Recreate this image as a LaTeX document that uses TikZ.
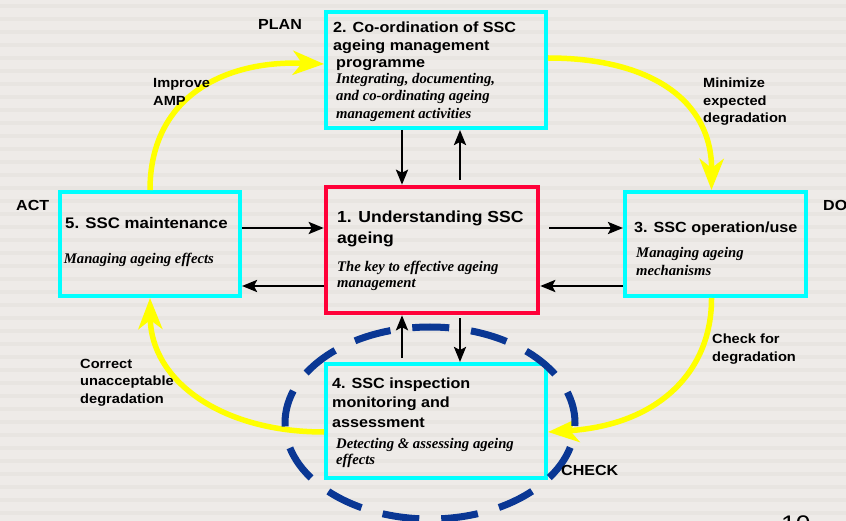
\documentclass[tikz,border=0pt]{standalone}
\usepackage{fontspec}
\setmainfont{Liberation Sans}[FakeStretch=1.1]
\newfontfamily\serifit{Liberation Serif}
\usetikzlibrary{arrows.meta}

\definecolor{bgc}{HTML}{EEEBE8}
\definecolor{stripec}{HTML}{E8E5E1}
\definecolor{boxcyan}{HTML}{00FFFF}
\definecolor{boxred}{HTML}{FF0038}
\definecolor{amber}{HTML}{FFFF00}
\definecolor{ringblue}{HTML}{0A3794}

\begin{document}
\begin{tikzpicture}[x=1pt,y=-1pt,
  cbox/.style={draw=boxcyan,line width=4pt,inner sep=0pt,rectangle},
  rbox/.style={draw=boxred,line width=4.5pt,inner sep=0pt,rectangle},
  txt/.style={inner sep=0pt,anchor=base west,text=black},
  ttl/.style={txt,font=\bfseries\fontsize{14.7}{17}\selectfont},
  ttlbig/.style={txt,font=\bfseries\fontsize{16}{19}\selectfont},
  sub/.style={txt,font=\serifit\bfseries\itshape\fontsize{14.7}{17}\selectfont},
  lbl/.style={txt,font=\bfseries\fontsize{13.3}{16}\selectfont},
  phase/.style={txt,font=\bfseries\fontsize{14.6}{17}\selectfont},
  blk/.style={draw=black,line width=2.6pt,-{Stealth[length=15pt,width=12pt,inset=3pt]}},
  cycle arrow/.style={draw=amber,line width=5.5pt,-{Stealth[length=31pt,width=24pt,inset=9pt]}},
  ring/.style={draw=ringblue,line width=7pt,dash pattern=on 37pt off 22pt,dash phase=5pt}]

\useasboundingbox (0,0) rectangle (846,521);
\clip (0,0) rectangle (846,521);

% background with faint horizontal banding
\fill[bgc] (0,0) rectangle (846,521);
\foreach \k in {0,...,40}
  \fill[stripec] (0,{\k*13+4}) rectangle (846,{\k*13+8});

% the five process boxes
\node[cbox,minimum width=220pt,minimum height=116pt] (b2) at (436,70) {};
\node[rbox,minimum width=212pt,minimum height=126pt] (b1) at (432,250) {};
\node[cbox,minimum width=180pt,minimum height=104pt] (b5) at (150,244) {};
\node[cbox,minimum width=181pt,minimum height=104pt] (b3) at (715.5,244) {};
\node[cbox,minimum width=220pt,minimum height=114pt] (b4) at (436,421) {};

% helper lines for the straight connectors
\coordinate (vl) at (402,0);
\coordinate (vr) at (460,0);
\coordinate (hu) at (0,228);
\coordinate (hd) at (0,286);

% black two-way links with the central box
\draw[blk] (b2.south -| vl) -- (b1.north -| vl);
\draw[blk,shorten <=5pt] (b1.north -| vr) -- (b2.south -| vr);
\draw[blk] (b5.east |- hu) -- (b1.west |- hu);
\draw[blk] (b1.west |- hd) -- (b5.east |- hd);
\draw[blk,shorten <=9pt] (b1.east |- hu) -- (b3.west |- hu);
\draw[blk] (b3.west |- hd) -- (b1.east |- hd);
\draw[blk,shorten <=4pt] (b4.north -| vl) -- (b1.south -| vl);
\draw[blk,shorten <=3pt] (b1.south -| vr) -- (b4.north -| vr);

% yellow PDCA cycle
\draw[cycle arrow] (b5.north) .. controls (150,100) and (220,60) .. ([yshift=6pt]b2.west);
\draw[cycle arrow] ([yshift=12pt]b2.east) .. controls (650,58) and (712,100) .. ([xshift=-4pt]b3.north);
\draw[cycle arrow] ([xshift=-4pt]b3.south) .. controls (712,370) and (660,425) .. ([yshift=-11pt]b4.east);
\draw[cycle arrow] ([yshift=-11pt]b4.west) .. controls (220,432) and (151,380) .. (b5.south);

% dashed ring round the inspection box
\draw[ring] (430,423) ellipse [x radius=145pt, y radius=96pt];

% box texts
\node[ttl] (t2a) at (333,33) {2. Co-ordination of SSC};
\node[ttl] (t2b) at (333,50.5) {ageing management};
\node[ttl] (t2c) at (336,68) {programme};
\node[sub] (s2a) at (336,84) {Integrating, documenting,};
\node[sub] (s2b) at (336,100.5) {and co-ordinating ageing};
\node[sub] (s2c) at (336,118.5) {management activities};

\node[ttlbig] (t1a) at (337,222.7) {1. Understanding SSC};
\node[ttlbig] (t1b) at (337,243.3) {ageing};
\node[sub] (s1a) at (337,271.5) {The key to effective ageing};
\node[sub] (s1b) at (337,287.5) {management};

\node[ttl] (t3a) at (634,232.7) {3. SSC operation/use};
\node[sub] (s3a) at (636,257.5) {Managing ageing};
\node[sub] (s3b) at (636,276) {mechanisms};

\node[txt,font=\bfseries\fontsize{15.3}{18}\selectfont] (t5a) at (65,229) {5. SSC maintenance};
\node[sub] (s5a) at (63.7,264) {Managing ageing effects};

\node[ttl] (t4a) at (332,388) {4. SSC inspection};
\node[ttl] (t4b) at (332,407.5) {monitoring and};
\node[ttl] (t4c) at (332,427) {assessment};
\node[sub] (s4a) at (336,448) {Detecting \& assessing ageing};
\node[sub] (s4b) at (336,464.5) {effects};

% cycle labels
\node[phase] (plan) at (258,30) {PLAN};
\node[phase] (act) at (16,210.7) {ACT};
\node[phase] (do) at (823,210.7) {DO};
\node[phase] (check) at (561,475.7) {CHECK};

\node[lbl] (la1) at (153,88) {Improve};
\node[lbl] (la2) at (153,106) {AMP};
\node[lbl] (lb1) at (703,88) {Minimize};
\node[lbl] (lb2) at (703,105.5) {expected};
\node[lbl] (lb3) at (703,123) {degradation};
\node[lbl] (lc1) at (712,343) {Check for};
\node[lbl] (lc2) at (712,361) {degradation};
\node[lbl] (ld1) at (80,368) {Correct};
\node[lbl] (ld2) at (80,385.5) {unacceptable};
\node[lbl] (ld3) at (80,403) {degradation};

% page number, running off the bottom edge
\node[txt,font=\fontsize{24}{28}\selectfont] (pg) at (781,532) {10};
\end{tikzpicture}
\end{document}
